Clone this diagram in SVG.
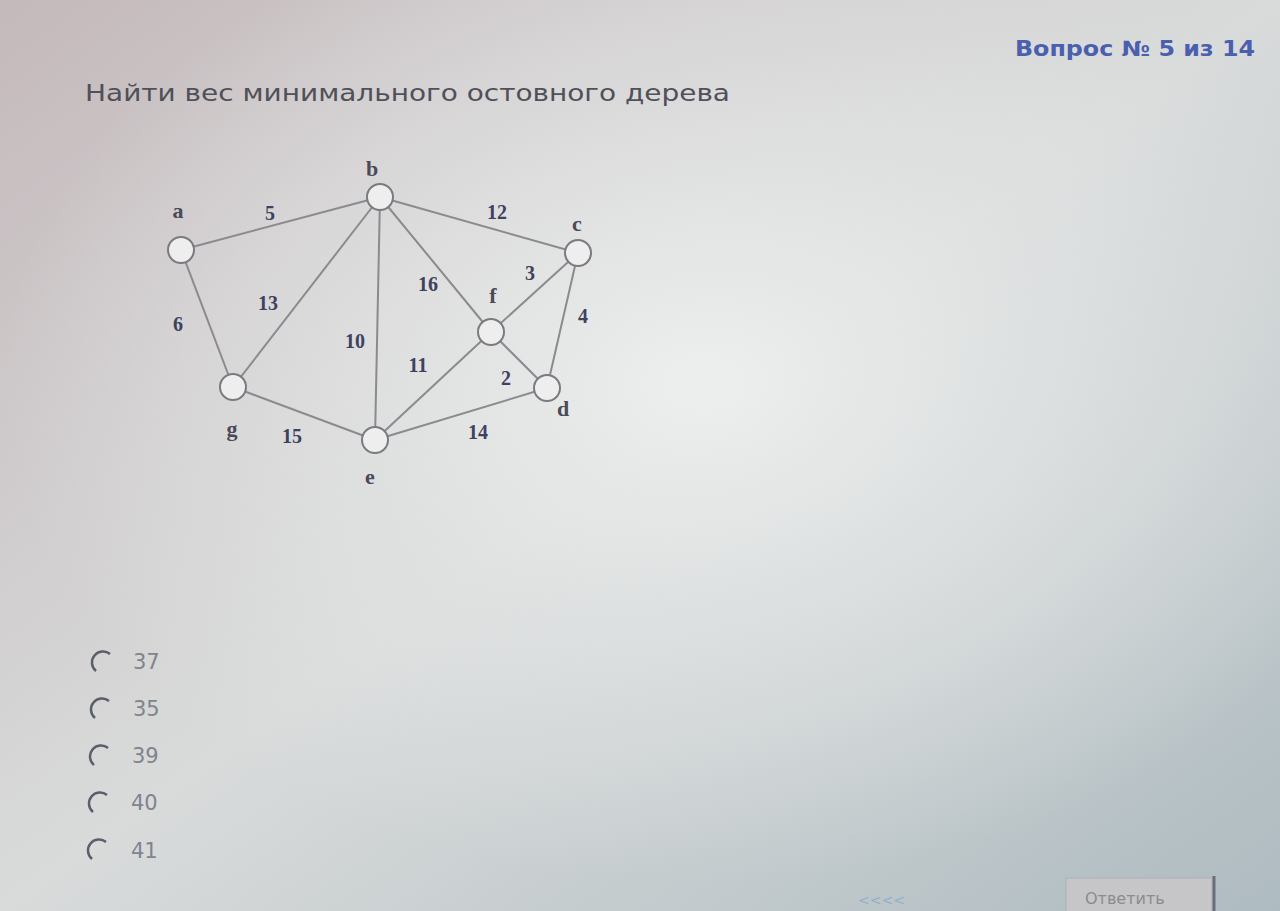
<svg xmlns="http://www.w3.org/2000/svg" width="1280" height="911" viewBox="0 0 1280 911">
<defs>
<linearGradient id="bg" x1="0" y1="0" x2="1" y2="1">
<stop offset="0" stop-color="#c4b9bb"/>
<stop offset="0.5" stop-color="#d9dbdb"/>
<stop offset="1" stop-color="#aebbc0"/>
</linearGradient>
<radialGradient id="glow" cx="0.55" cy="0.42" r="0.55">
<stop offset="0" stop-color="#eef0ef" stop-opacity="0.95"/>
<stop offset="0.6" stop-color="#e4e6e6" stop-opacity="0.5"/>
<stop offset="1" stop-color="#e4e6e6" stop-opacity="0"/>
</radialGradient>
<style>
.edge{stroke:#8a8a90;stroke-width:2;fill:none}
.node{fill:#eeeeee;stroke:#7a7a80;stroke-width:2}
.nl{font-family:"Liberation Serif",serif;font-weight:bold;font-size:22px;fill:#4a4a58;text-anchor:middle}
.w{font-family:"Liberation Serif",serif;font-weight:bold;font-size:20px;fill:#3e4260;text-anchor:middle}
.opt{font-family:"DejaVu Sans",sans-serif;font-size:21px;fill:#80848c}
.radio{fill:none;stroke:#5a5e6a;stroke-width:2.5}
</style>
</defs>
<rect width="1280" height="911" fill="url(#bg)"/>
<rect width="1280" height="911" fill="url(#glow)"/>
<text x="1015" y="56" font-family="DejaVu Sans,sans-serif" font-weight="bold" font-size="21" fill="#4a5fae" textLength="240" lengthAdjust="spacingAndGlyphs">Вопрос № 5 из 14</text>
<text x="85" y="101" font-family="DejaVu Sans,sans-serif" font-size="23" fill="#505058" textLength="645" lengthAdjust="spacingAndGlyphs">Найти вес минимального остовного дерева</text>
<g id="connectors">
<line class="edge" x1="181" y1="250" x2="380" y2="197"/>
<line class="edge" x1="380" y1="197" x2="578" y2="253"/>
<line class="edge" x1="181" y1="250" x2="233" y2="387"/>
<line class="edge" x1="233" y1="387" x2="380" y2="197"/>
<line class="edge" x1="380" y1="197" x2="375" y2="440"/>
<line class="edge" x1="380" y1="197" x2="491" y2="332"/>
<line class="edge" x1="578" y1="253" x2="491" y2="332"/>
<line class="edge" x1="578" y1="253" x2="547" y2="388"/>
<line class="edge" x1="491" y1="332" x2="375" y2="440"/>
<line class="edge" x1="491" y1="332" x2="547" y2="388"/>
<line class="edge" x1="233" y1="387" x2="375" y2="440"/>
<line class="edge" x1="375" y1="440" x2="547" y2="388"/>
</g>
<g id="weights">
<text class="w" x="270" y="220">5</text>
<text class="w" x="497" y="219">12</text>
<text class="w" x="268" y="310">13</text>
<text class="w" x="178" y="331">6</text>
<text class="w" x="355" y="348">10</text>
<text class="w" x="428" y="291">16</text>
<text class="w" x="530" y="280">3</text>
<text class="w" x="583" y="323">4</text>
<text class="w" x="418" y="372">11</text>
<text class="w" x="506" y="385">2</text>
<text class="w" x="292" y="443">15</text>
<text class="w" x="478" y="439">14</text>
</g>
<g id="node-a"><circle class="node" cx="181" cy="250" r="13"/><text class="nl" x="178" y="218">a</text></g>
<g id="node-b"><circle class="node" cx="380" cy="197" r="13"/><text class="nl" x="372" y="176">b</text></g>
<g id="node-c"><circle class="node" cx="578" cy="253" r="13"/><text class="nl" x="577" y="231">c</text></g>
<g id="node-f"><circle class="node" cx="491" cy="332" r="13"/><text class="nl" x="493" y="303">f</text></g>
<g id="node-d"><circle class="node" cx="547" cy="388" r="13"/><text class="nl" x="563" y="416">d</text></g>
<g id="node-g"><circle class="node" cx="233" cy="387" r="13"/><text class="nl" x="232" y="436">g</text></g>
<g id="node-e"><circle class="node" cx="375" cy="440" r="13"/><text class="nl" x="370" y="484">e</text></g>
<g id="options">
<path class="radio" d="M96 671 A9 9 0 0 1 110 654"/>
<text class="opt" x="133" y="669">37</text>
<path class="radio" d="M95 718 A9 9 0 0 1 109 701"/>
<text class="opt" x="133" y="716">35</text>
<path class="radio" d="M94 765 A9 9 0 0 1 108 748"/>
<text class="opt" x="132" y="763">39</text>
<path class="radio" d="M93 812 A9 9 0 0 1 107 795"/>
<text class="opt" x="131" y="810">40</text>
<path class="radio" d="M92 859 A9 9 0 0 1 106 842"/>
<text class="opt" x="131" y="858">41</text>
</g>
<text x="858" y="905" font-family="DejaVu Sans,sans-serif" font-size="14" fill="#8fb0c8">&lt;&lt;&lt;&lt;</text>
<g id="button">
<rect x="1066" y="878" width="146" height="40" fill="#c6c6c8" stroke="#aeb0b4"/>
<line x1="1214" y1="876" x2="1214" y2="911" stroke="#6a6e78" stroke-width="3"/>
<text x="1085" y="904" font-family="DejaVu Sans,sans-serif" font-size="16" fill="#8a8c92">Ответить</text>
</g>
</svg>
